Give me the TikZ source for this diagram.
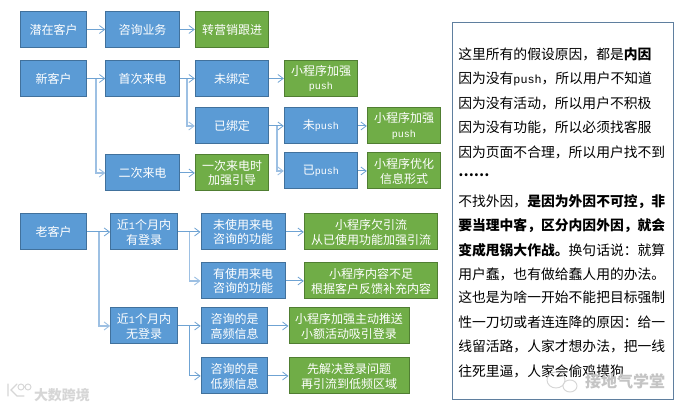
\documentclass[tikz,border=0pt]{standalone}
\usepackage{fontspec}
\setmainfont{Noto Sans CJK SC}
\newfontfamily\lat{Liberation Mono}
\usetikzlibrary{arrows.meta}
\newcommand{\pushb}{{\lat\fontsize{7.5pt}{9pt}\selectfont push}}
\newcommand{\pusht}{{\lat\fontsize{8.8pt}{10pt}\selectfont push}}
\tikzset{
  x=0.75pt,y=-0.75pt,
  box/.style={draw,line width=0.75pt,minimum height=27pt,inner sep=0pt,align=center,text=white,
     font=\fontsize{9pt}{11.2pt}\selectfont},
  bluebox/.style={box,fill=blueF,draw=blueD},
  greenbox/.style={box,fill=greenF,draw=greenD},
  w67/.style={minimum width=50pt},
  w74/.style={minimum width=55pt},
  w84/.style={minimum width=63pt},
  w120/.style={minimum width=90pt},
  w134/.style={minimum width=100pt},
  conn/.style={draw=arrowC,line width=0.75pt,-{Straight Barb[length=4pt,width=6pt,line width=0.6pt]}},
  branch/.style={draw=branchC,line width=1.1pt,-{Straight Barb[length=4pt,width=6pt,line width=0.7pt]}},
  para/.style={anchor=base west,inner sep=0pt,text=black,font=\fontsize{10.35pt}{12pt}\selectfont},
  wm/.style={inner sep=0pt,text=wmC,font=\bfseries\fontsize{10.5pt}{12pt}\selectfont},
  wmline/.style={draw=wmL,line width=0.9pt,line cap=round},
}
\definecolor{blueF}{HTML}{5B9BD5}
\definecolor{blueD}{HTML}{41719C}
\definecolor{greenF}{HTML}{70AD47}
\definecolor{greenD}{HTML}{507E32}
\definecolor{arrowC}{HTML}{6FA3D3}
\definecolor{branchC}{HTML}{9DC0E3}
\definecolor{panelD}{HTML}{5F7F9F}
\definecolor{wmC}{HTML}{C4C4C4}
\definecolor{wmL}{HTML}{D6D6D6}
\begin{document}
\begin{tikzpicture}
\useasboundingbox (0,0) rectangle (687,409);
% row 1
\node[bluebox,w67] (qz) at (53.5,29.5) {潜在客户};
\node[bluebox,w74] (zx) at (142.5,29.5) {咨询业务};
\node[greenbox,w74] (zy) at (232,29.5) {转营销跟进};
\draw[conn] (qz) -- (zx);
\draw[conn] (zx) -- (zy);
% new customers
\node[bluebox,w67] (xk) at (53.5,78.5) {新客户};
\node[bluebox,w74] (sc) at (142.5,78.5) {首次来电};
\node[bluebox,w74] (wb) at (232,78.5) {未绑定};
\node[greenbox,w74] (g1) at (321,78.5) {小程序加强\\\pushb};
\node[bluebox,w74] (yb) at (232,126) {已绑定};
\node[bluebox,w74] (wp) at (321,126) {未\pushb};
\node[greenbox,w74] (g2) at (404,126) {小程序加强\\\pushb};
\node[bluebox,w74] (ec) at (142.5,173) {二次来电};
\node[greenbox,w74] (yc) at (232,173) {一次来电时\\加强引导};
\node[bluebox,w74] (yp) at (321,171) {已\pushb};
\node[greenbox,w74] (g3) at (404,171) {小程序优化\\信息形式};
\coordinate (j1) at (96,78.5);
\coordinate (j2) at (187,78.5);
\coordinate (j3) at (277,126);
\draw[branch] (j1) |- (ec.west);
\draw[branch] (j2) |- (yb.west);
\draw[branch] (j3) |- (yp.west);
\draw[conn] (xk) -- (sc);
\draw[conn] (sc) -- (wb);
\draw[conn] (wb) -- (g1);
\draw[conn] (yb) -- (wp);
\draw[conn] (wp) -- (g2);
\draw[conn] (ec) -- (yc);
\draw[conn] (yp) -- (g3);
% old customers
\node[bluebox,w67] (lk) at (53.5,232) {老客户};
\node[bluebox,w67] (yd) at (144,232) {近{\lat\fontsize{7.5pt}{9pt}\selectfont 1}个月内\\有登录};
\node[bluebox,w84] (ws) at (243,232) {未使用来电\\咨询的功能};
\node[greenbox,w134] (g4) at (371,232) {小程序欠引流\\从已使用功能加强引流};
\node[bluebox,w84] (ys) at (243,281) {有使用来电\\咨询的功能};
\node[greenbox,w134] (g5) at (371,281) {小程序内容不足\\根据客户反馈补充内容};
\node[bluebox,w67] (wd) at (144,326) {近{\lat\fontsize{7.5pt}{9pt}\selectfont 1}个月内\\无登录};
\node[bluebox,w67] (gp) at (234.5,326) {咨询的是\\高频信息};
\node[greenbox,w120] (g6) at (349,326) {小程序加强主动推送\\小额活动吸引登录};
\node[bluebox,w67] (dp) at (234.5,376) {咨询的是\\低频信息};
\node[greenbox,w120] (g7) at (349,376) {先解决登录问题\\再引流到低频区域};
\coordinate (j4) at (99,232);
\coordinate (j5) at (189.5,232);
\coordinate (j6) at (189.5,326);
\draw[branch] (j4) |- (wd.west);
\draw[branch] (j5) |- (ys.west);
\draw[conn] (j6) |- (dp.west);
\draw[conn] (lk) -- (yd);
\draw[conn] (yd) -- (ws);
\draw[conn] (ws) -- (g4);
\draw[conn] (ys) -- (g5);
\draw[conn] (wd) -- (gp);
\draw[conn] (gp) -- (g6);
\draw[conn] (dp) -- (g7);
% panel
\node[draw=panelD,fill=white,line width=0.75pt,minimum width=165.75pt,minimum height=282.75pt,inner sep=0pt] (panel) at (562.5,211.5) {};
\node[para] (t1) at (458,60) {这里所有的假设原因，都是\textbf{内因}};
\node[para] (t2) at (458,84) {因为没有\pusht，所以用户不知道};
\node[para] (t3) at (458,108.5) {因为没有活动，所以用户不积极};
\node[para] (t4) at (458,133) {因为没有功能，所以必须找客服};
\node[para] (t5) at (458,158) {因为页面不合理，所以用户找不到};
\node[para] (t6) at (458,177) {\textbf{……}};
\node[para] (t7) at (458,207) {不找外因，\textbf{是因为外因不可控，非}};
\node[para] (t8) at (458,231) {\textbf{要当理中客，区分内因外因，就会}};
\node[para] (t9) at (458,256) {\textbf{变成甩锅大作战。}换句话说：就算};
\node[para] (t10) at (458,280) {用户蠢，也有做给蠢人用的办法。};
\node[para] (t11) at (458,303) {这也是为啥一开始不能把目标强制};
\node[para] (t12) at (458,328) {性一刀切或者连连降的原因：给一};
\node[para] (t13) at (458,352) {线留活路，人家才想办法，把一线};
\node[para] (t14) at (458,377) {往死里逼，人家会偷鸡摸狗};
% watermarks
\draw[wmline] (8,384) -- (8,396) (17,384) -- (11,390) -- (17,396) -- (24,396);
\draw[wmline,line width=0.7pt] (21,387) circle (3) (28,387) circle (3);
\draw[wmline,line width=0.7pt] (556,380) ellipse (9 and 8) (570,386) ellipse (7 and 6);
\node[wm,text=wmL] (w1) at (62,395) {大数跨境};
\node[wm,font=\bfseries\fontsize{12pt}{14pt}\selectfont] (w2) at (625,381) {接地气学堂};
\end{tikzpicture}
\end{document}
